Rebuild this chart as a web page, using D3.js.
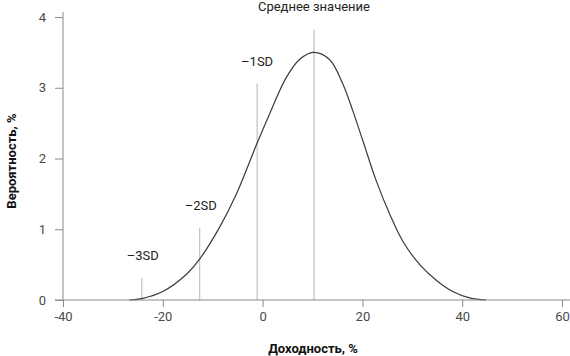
<!DOCTYPE html>
<html>
<head>
<meta charset="utf-8">
<script src="https://cdn.jsdelivr.net/npm/d3@7"></script>
<style>
  html, body { margin: 0; padding: 0; background: #fff; }
  svg { display: block; }
  text { font-family: "Liberation Sans Narrow", "Roboto", "Liberation Sans", sans-serif; }
</style>
</head>
<body>
<svg id="chart" width="570" height="356"></svg>
<script>
// Distribution curve (return %, probability %)
const curveX = [-26.7, -24.2, -20, -15.3, -12.6, -8.6, -5.3, -1.2, 1.4, 4.7, 7.4, 10.2, 13.4, 16.1, 18.1, 20.1, 22.8, 25.5, 28.1, 31.5, 34.8, 38.1, 41.5, 44.8];
const curveY = [0, 0.02, 0.12, 0.36, 0.58, 1.03, 1.49, 2.20, 2.63, 3.14, 3.40, 3.50, 3.40, 3.05, 2.67, 2.25, 1.68, 1.21, 0.83, 0.50, 0.28, 0.12, 0.03, 0];

// Marker lines
const sdLabels = ["–3SD", "–2SD", "–1SD"];
const sdX = [-24.2, -12.6, -1.1];
const sdTop = [0.31, 1.02, 3.06];
const meanLabel = "Среднее значение";
const meanX = 10.3;
const meanTop = 3.82;

// Axes
const xTicks = [-40, -20, 0, 20, 40, 60];
const yTicks = [0, 1, 2, 3, 4];
const xTitle = "Доходность, %";
const yTitle = "Вероятность, %";

const svg = d3.select("#chart");
const x = d3.scaleLinear().domain([-40, 60]).range([63, 562]);
const y = d3.scaleLinear().domain([0, 4]).range([300, 17]);

const axisColor = "#8a8a8a";
const labelColor = "#4a4a4a";

// SD lines
svg.append("g").selectAll("line").data(sdX).join("line")
  .attr("x1", d => x(d)).attr("x2", d => x(d))
  .attr("y1", y(0)).attr("y2", (d, i) => y(sdTop[i]))
  .attr("stroke", "#b5b5b5").attr("stroke-width", 1);

// Mean line
svg.append("line")
  .attr("x1", x(meanX)).attr("x2", x(meanX))
  .attr("y1", y(0)).attr("y2", y(meanTop))
  .attr("stroke", "#d6d6d6").attr("stroke-width", 2);

// Curve
const pts = curveX.map((v, i) => [v, curveY[i]]);
svg.append("path")
  .datum(pts)
  .attr("fill", "none")
  .attr("stroke", "#3a3a3a")
  .attr("stroke-width", 1.2)
  .attr("d", d3.line().x(d => x(d[0])).y(d => y(d[1])).curve(d3.curveCatmullRom.alpha(0.5)));

// Y axis
const yAxis = svg.append("g").attr("transform", `translate(${x(-40)},0)`)
  .call(d3.axisLeft(y).tickValues(yTicks).tickSize(8).tickPadding(9).tickFormat(d3.format("d")));
yAxis.select(".domain").remove();
yAxis.append("line").attr("x1", 0).attr("x2", 0).attr("y1", 12).attr("y2", y(0))
  .attr("stroke", axisColor);

// X axis
const xAxis = svg.append("g").attr("transform", `translate(0,${y(0)})`)
  .call(d3.axisBottom(x).tickValues(xTicks).tickSize(7).tickPadding(5)
    .tickFormat(d => d < 0 ? "-" + Math.abs(d) : d));
xAxis.select(".domain").remove();
xAxis.append("line").attr("x1", x(-40) - 8).attr("x2", 570).attr("y1", 0).attr("y2", 0)
  .attr("stroke", axisColor);

svg.selectAll(".tick line").attr("stroke", axisColor);
svg.selectAll(".tick text").attr("fill", labelColor).style("font-size", "13px")
  .style("font-family", "'Liberation Sans Narrow', Roboto, sans-serif");

// Labels on marker lines
svg.append("g").selectAll("text").data(sdLabels).join("text")
  .attr("x", (d, i) => x(sdX[i]) + (i === 2 ? 0 : 1))
  .attr("y", (d, i) => y(sdTop[i]) - 18)
  .attr("text-anchor", "middle")
  .attr("fill", "#222")
  .style("font-size", "13px")
  .text(d => d);

svg.append("text")
  .attr("x", x(meanX)).attr("y", 11)
  .attr("text-anchor", "middle")
  .attr("fill", "#222")
  .style("font-size", "13px")
  .text(meanLabel);

// Axis titles
svg.append("text")
  .attr("x", 313).attr("y", 353)
  .attr("text-anchor", "middle")
  .attr("fill", "#111")
  .style("font-size", "13px").style("font-weight", "bold")
  .text(xTitle);

svg.append("text")
  .attr("transform", "translate(16,161) rotate(-90)")
  .attr("text-anchor", "middle")
  .attr("fill", "#111")
  .style("font-size", "13px").style("font-weight", "bold")
  .text(yTitle);
</script>
</body>
</html>
